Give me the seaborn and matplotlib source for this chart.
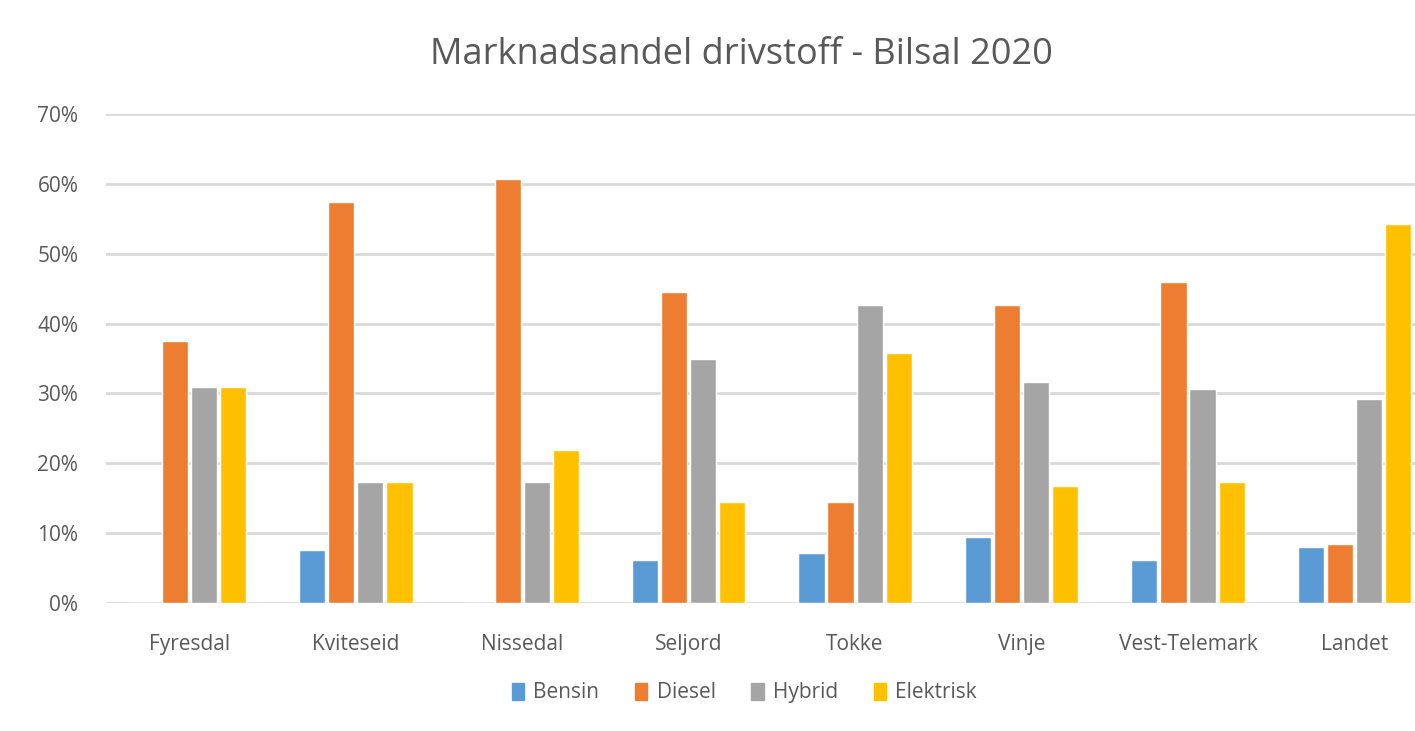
import pandas as pd
import seaborn as sns
import matplotlib.pyplot as plt
from matplotlib.ticker import PercentFormatter

# Data (share in %)
kommuner = ['Fyresdal', 'Kviteseid', 'Nissedal', 'Seljord', 'Tokke', 'Vinje', 'Vest-Telemark', 'Landet']
bensin = [0.0, 7.6, 0.0, 6.2, 7.2, 9.4, 6.2, 8.0]
diesel = [37.5, 57.4, 60.7, 44.5, 14.4, 42.6, 45.9, 8.4]
hybrid = [31.0, 17.3, 17.3, 34.9, 42.6, 31.6, 30.6, 29.2]
elektrisk = [31.0, 17.3, 21.9, 14.4, 35.8, 16.7, 17.3, 54.2]

drivstoff = ['Bensin', 'Diesel', 'Hybrid', 'Elektrisk']
farger = ['#5B9BD5', '#ED7D31', '#A5A5A5', '#FFC000']

# Long format for seaborn
df = pd.DataFrame({'Kommune': kommuner, 'Bensin': bensin, 'Diesel': diesel,
                   'Hybrid': hybrid, 'Elektrisk': elektrisk})
df = df.melt(id_vars='Kommune', var_name='Drivstoff', value_name='Andel')

sns.set_style('white')
plt.rcParams['font.family'] = ['Open Sans', 'DejaVu Sans']

fig = plt.figure(figsize=(14.15, 7.31), dpi=100)
fig.patch.set_facecolor('white')
ax = fig.add_axes([0.075, 0.175, 0.941, 0.669])

sns.barplot(data=df, x='Kommune', y='Andel', hue='Drivstoff', hue_order=drivstoff,
            palette=farger, width=0.7, gap=0.1, saturation=1, ax=ax, zorder=3)

ax.set_ylim(0, 70)
ax.set_xlim(-0.5, 7.5)
ax.set_yticks(range(0, 71, 10))
ax.yaxis.set_major_formatter(PercentFormatter(decimals=0))
ax.grid(axis='y', color='#D9D9D9', linewidth=2, zorder=0)
ax.set_axisbelow(True)
for s in ax.spines.values():
    s.set_visible(False)
ax.set_xlabel('')
ax.set_ylabel('')
ax.tick_params(axis='both', length=0, labelsize=15, labelcolor='#595959')
ax.tick_params(axis='x', pad=22)
ax.tick_params(axis='y', pad=20)

fig.text(0.524, 0.925, 'Marknadsandel drivstoff - Bilsal 2020', ha='center', va='center',
         fontsize=26, color='#595959')

ax.legend_.remove()
handles = [plt.Rectangle((0, 0), 1, 1, color=c) for c in farger]
fig.legend(handles, drivstoff, loc='center', bbox_to_anchor=(0.526, 0.052), ncol=4,
           frameon=False, fontsize=15, labelcolor='#595959', handlelength=0.6,
           handleheight=0.9, handletextpad=0.45, columnspacing=1.7)

plt.savefig('out.png', dpi=100)
